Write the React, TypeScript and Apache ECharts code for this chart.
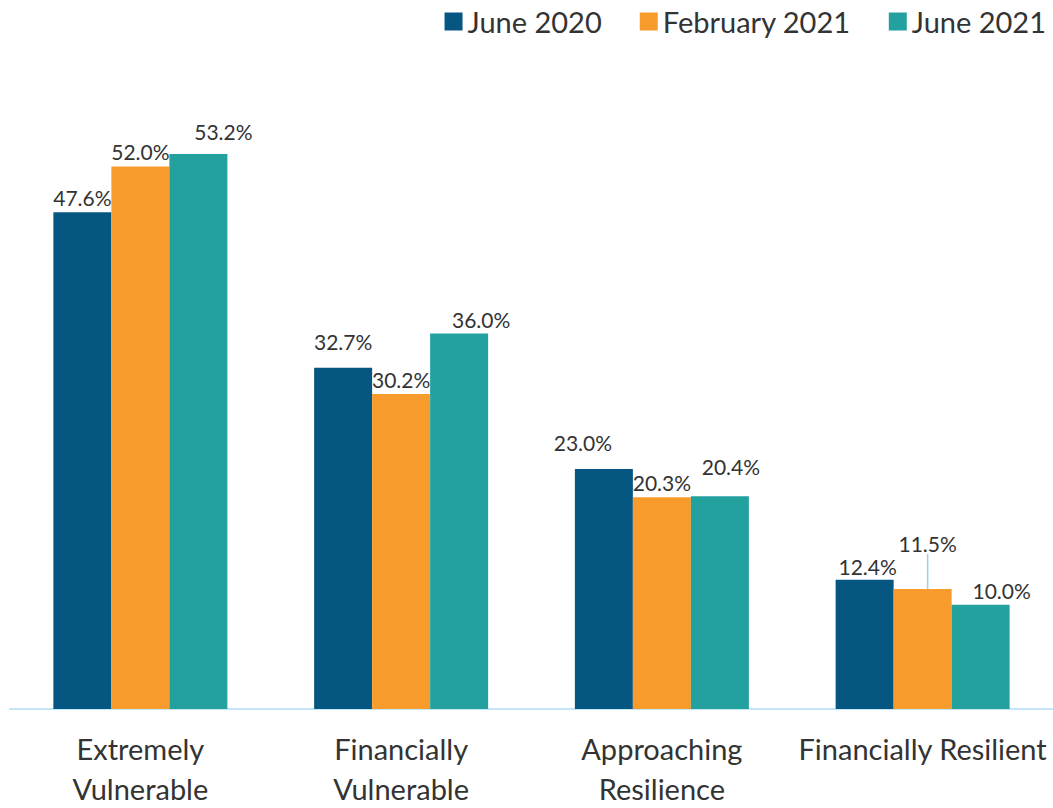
import React, { useEffect, useRef } from "react";
import * as echarts from "echarts";

const categories = ["Extremely\nVulnerable", "Financially\nVulnerable", "Approaching\nResilience", "Financially Resilient"];
const seriesNames = ["June 2020", "February 2021", "June 2021"];
const june2020 = [47.6, 32.7, 23.0, 12.4];
const feb2021 = [52.0, 30.2, 20.3, 11.5];
const june2021 = [53.2, 36.0, 20.4, 10.0];

const colors = ["#065682", "#F79C2C", "#22A19F"];
const labelNudges = [
  [[0, 0], [0, -12], [-21, -12], [3, 1]],
  [[-7, -2], [-1, -1], [-1, -1], [0, 0]],
  [[25, -8], [22, 1], [11, -15], [21, 0]],
];

export default function App() {
  const ref = useRef<HTMLDivElement>(null);
  useEffect(() => {
    const chart = echarts.init(ref.current!, null, { renderer: "svg" });
    const values = [june2020, feb2021, june2021];
    const series = values.map((vals, si) => ({
      name: seriesNames[si],
      type: "bar",
      barWidth: 58,
      barGap: "0%",
      itemStyle: { color: colors[si] },
      data: vals.map((v, i) => {
        const item: any = { value: v, label: { offset: labelNudges[si][i] } };
        if (si === 1 && i === 3) {
          item.labelLine = { show: true, lineStyle: { color: "#8CD3F5", width: 1.5 } };
        }
        return item;
      }),
      label: {
        show: true,
        position: "top",
        distance: 4,
        fontFamily: "Lato",
        fontSize: 21,
        color: "#333",
        formatter: (p: any) => p.value.toFixed(1) + "%",
      },
      labelLine: { show: false },
      ...(si === 1
        ? { labelLayout: (p: any) => (p.dataIndex === 3 ? { dx: 5, dy: -31 } : {}) }
        : {}),
    }));
    chart.setOption({
      animation: false,
      color: colors,
      legend: {
        data: seriesNames,
        right: 2,
        top: 2,
        itemWidth: 18,
        itemHeight: 18,
        itemGap: 38,
        icon: "rect",
        textStyle: { fontFamily: "Lato", fontSize: 29, color: "#333" },
      },
      grid: { left: 10, right: 0, top: 83, bottom: 94 },
      xAxis: {
        type: "category",
        data: categories,
        axisLine: { lineStyle: { color: "#C3E7F7", width: 2 } },
        axisTick: { show: false },
        axisLabel: {
          fontFamily: "Lato",
          fontSize: 29,
          lineHeight: 40,
          color: "#333",
          margin: 19,
          interval: 0,
        },
      },
      yAxis: { type: "value", min: 0, max: 60, show: false, splitLine: { show: false } },
      series,
    });
    return () => chart.dispose();
  }, []);
  return <div ref={ref} style={{ width: 1053, height: 808, position: "absolute", left: 0, top: 0 }} />;
}
